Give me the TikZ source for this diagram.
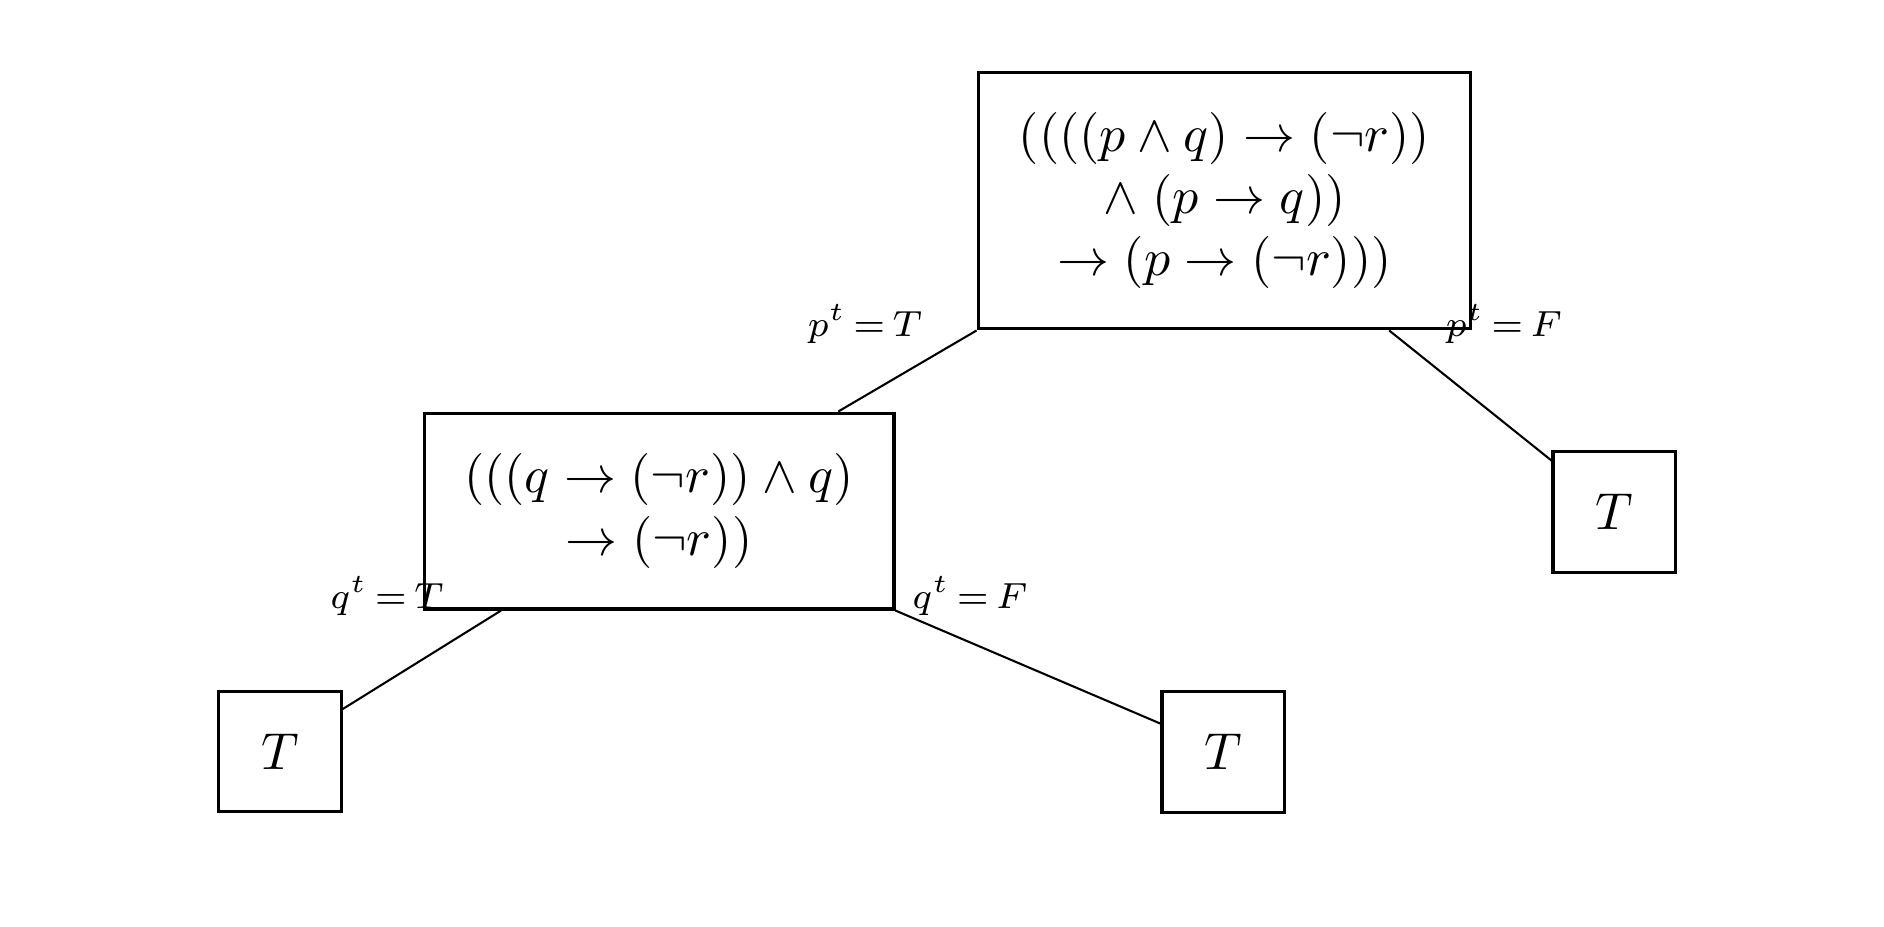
\documentclass[tikz,border=0pt]{standalone}
\usetikzlibrary{calc}
\begin{document}
\begin{tikzpicture}[x=0.1924pt,y=-0.1924pt,
  formbox/.style={draw=black,line width=0.6pt,inner sep=0pt,align=center,font=\normalsize},
  leafbox/.style={draw=black,line width=0.6pt,inner sep=0pt,minimum width=23.5pt,minimum height=23.2pt},
  branch/.style={draw=black,line width=0.4pt},
  blabel/.style={inner sep=0pt,anchor=base,font=\scriptsize}]
\useasboundingbox (0,0) rectangle (1884,926);
\node[formbox,minimum width=94.8pt,minimum height=49.4pt] (top) at (1224.5,200.5)
  {$((((p \wedge q) \rightarrow (\neg r))$\\ $\wedge\;(p \rightarrow q))$\\ $\rightarrow (p \rightarrow (\neg r)))$};
\node[formbox,minimum width=90.4pt,minimum height=37.7pt] (mid) at (659,511)
  {$(((q \rightarrow (\neg r)) \wedge q)$\\ $\rightarrow (\neg r))$};
\node[leafbox] (tr) at (1614,512) {$T$};
\node[leafbox] (bl) at (280,751.5) {$T$};
\node[leafbox] (br) at (1223,752) {$T$};
\draw[branch] (top.south west) -- ($(mid.north west)!0.879!(mid.north east)$);
\draw[branch] ($(top.south west)!0.832!(top.south east)$) -- ($(tr.north west)!0.083!(tr.south west)$);
\draw[branch] ($(mid.south west)!0.166!(mid.south east)$) -- ($(bl.north east)!0.157!(bl.south east)$);
\draw[branch] (mid.south east) -- ($(br.north west)!0.27!(br.south west)$);
\node[blabel] (lpT) at (865,336) {$p^t\,{=}\,T$};
\node[blabel] (lpF) at (1504,336) {$p^t\,{=}\,F$};
\node[blabel] (lqT) at (387,608) {$q^t\,{=}\,T$};
\node[blabel] (lqF) at (970,608) {$q^t\,{=}\,F$};
\end{tikzpicture}
\end{document}
